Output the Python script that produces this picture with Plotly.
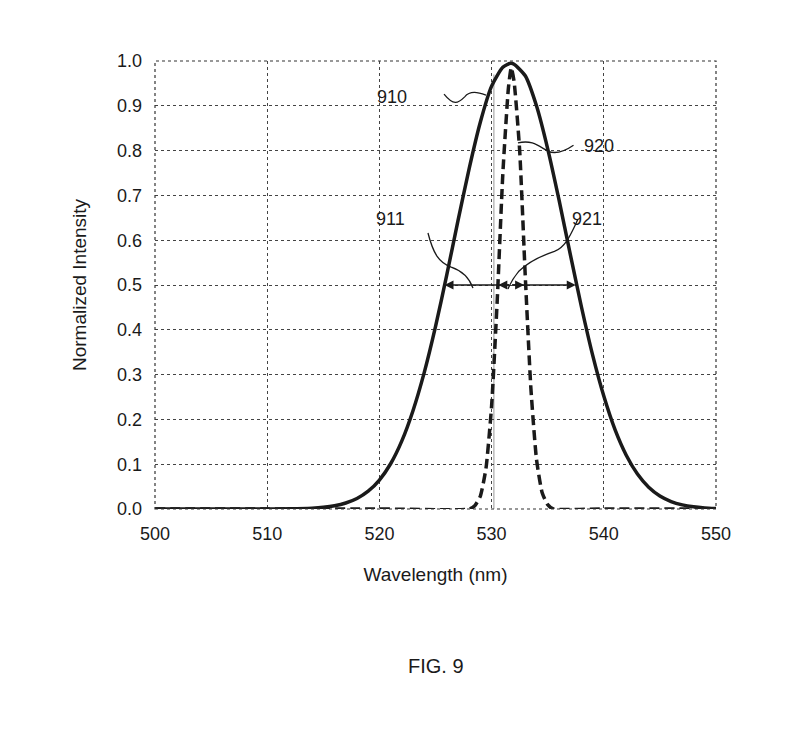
import plotly.graph_objects as go

# Solid curve (910)
wl_solid = [500, 505, 510, 512, 514, 515, 516, 517, 518, 519, 520, 521, 522, 523, 524, 525,
            526, 527, 528, 529, 530, 531, 531.7, 532, 533, 534, 535, 536, 537, 538, 539, 540,
            541, 542, 543, 544, 545, 546, 547, 548, 549, 550]
int_solid = [0.0, 0.0, 0.0, 0.0004, 0.0019, 0.0038, 0.0072, 0.0133, 0.0234, 0.0397, 0.0647,
             0.101, 0.152, 0.220, 0.305, 0.407, 0.522, 0.643, 0.760, 0.864, 0.944, 0.986,
             0.995, 0.993, 0.967, 0.900, 0.804, 0.691, 0.570, 0.452, 0.344, 0.252, 0.177,
             0.120, 0.078, 0.0485, 0.029, 0.0167, 0.0093, 0.0049, 0.0025, 0.0012]

# Dashed curve (920)
wl_dash = [500, 510, 520, 528, 528.5, 529, 529.5, 530, 530.5, 531, 531.5, 531.75, 532, 532.5,
           533, 533.5, 534, 534.5, 535, 535.5, 540, 550]
int_dash = [0.0, 0.0, 0.0, 0.0, 0.0072, 0.029, 0.091, 0.230, 0.465, 0.748, 0.940, 0.985, 0.955,
            0.801, 0.520, 0.270, 0.111, 0.037, 0.0096, 0.0, 0.0, 0.0]

x_ticks = [500, 510, 520, 530, 540, 550]
y_ticks = [0.0, 0.1, 0.2, 0.3, 0.4, 0.5, 0.6, 0.7, 0.8, 0.9, 1.0]

# FWHM markers
fwhm_y = 0.5
fwhm_solid = [525.8, 537.5]
fwhm_dash = [530.6, 532.9]
center = 531.7

FONT = "Liberation Sans, Arial, sans-serif"
INK = "#1a1a1a"

fig = go.Figure()
fig.add_trace(go.Scatter(x=wl_dash, y=int_dash, mode="lines",
                         line=dict(color=INK, width=3.5, dash="10px,5px", shape="spline", smoothing=0.5),
                         showlegend=False, hoverinfo="skip"))
fig.add_trace(go.Scatter(x=wl_solid, y=int_solid, mode="lines",
                         line=dict(color=INK, width=3.5, shape="spline", smoothing=0.6),
                         showlegend=False, hoverinfo="skip"))

# light vertical line near 530
fig.add_shape(type="line", x0=530.2, x1=530.2, y0=0, y1=0.97, xref="x", yref="y",
              line=dict(color="#bbbbbb", width=1.5), layer="below")

# dotted plot border
fig.add_shape(type="rect", x0=0, x1=1, y0=0, y1=1, xref="paper", yref="paper",
              line=dict(color="#333333", width=1.2, dash="dot"))

# FWHM arrows
for xe in fwhm_solid + fwhm_dash:
    fig.add_annotation(x=xe, y=fwhm_y, ax=center, ay=fwhm_y, xref="x", yref="y",
                       axref="x", ayref="y", showarrow=True, arrowhead=2, arrowsize=1.2,
                       arrowwidth=1.5, arrowcolor=INK, text="")

# leader lines (squiggles)
leaders = [
    "M 525.76,0.926 C 526.6,0.90 527.0,0.905 527.6,0.92 C 528.1,0.935 528.8,0.93 529.5,0.924",
    "M 532.35,0.817 C 533.6,0.825 534.2,0.81 535.0,0.799 C 535.8,0.79 536.6,0.80 537.3,0.812",
    "M 524.33,0.616 C 524.8,0.57 525.3,0.55 526.4,0.54 C 527.6,0.53 528.1,0.51 528.34,0.493",
    "M 537.7,0.647 C 537.0,0.61 536.6,0.585 535.6,0.575 C 534.4,0.565 533.2,0.55 532.4,0.53 C 531.9,0.515 531.6,0.50 531.46,0.491",
]
for p in leaders:
    fig.add_shape(type="path", path=p, xref="x", yref="y", line=dict(color=INK, width=1.3))

labels = [("910", 521.1, 0.92), ("920", 539.6, 0.81), ("911", 521.0, 0.647), ("921", 538.5, 0.647)]
for t, lx, ly in labels:
    fig.add_annotation(x=lx, y=ly, text=t, showarrow=False, xref="x", yref="y",
                       font=dict(family=FONT, size=18, color=INK))

fig.add_annotation(x=0.5, y=-0.35, xref="paper", yref="paper", text="FIG. 9", showarrow=False,
                   font=dict(family=FONT, size=20, color=INK), xanchor="center", yanchor="middle")

fig.update_xaxes(range=[500, 550], tickvals=x_ticks, ticktext=[str(v) for v in x_ticks],
                 showgrid=True, gridcolor="#444444", griddash="dot", gridwidth=1,
                 zeroline=False, showline=False, ticks="", ticklabelstandoff=12,
                 tickfont=dict(family=FONT, size=18, color=INK),
                 title=dict(text="Wavelength (nm)", font=dict(family=FONT, size=19, color=INK), standoff=24))
fig.update_yaxes(range=[0, 1.0], tickvals=y_ticks, ticktext=[f"{v:.1f}" for v in y_ticks],
                 showgrid=True, gridcolor="#444444", griddash="dot", gridwidth=1,
                 zeroline=False, showline=False, ticks="", ticklabelstandoff=12,
                 tickfont=dict(family=FONT, size=18, color=INK),
                 title=dict(text="Normalized Intensity", font=dict(family=FONT, size=19, color=INK), standoff=25))

fig.update_layout(width=805, height=729, margin=dict(l=147, r=97, t=53, b=228),
                  plot_bgcolor="white", paper_bgcolor="white", showlegend=False)

fig.write_html("out.html")
